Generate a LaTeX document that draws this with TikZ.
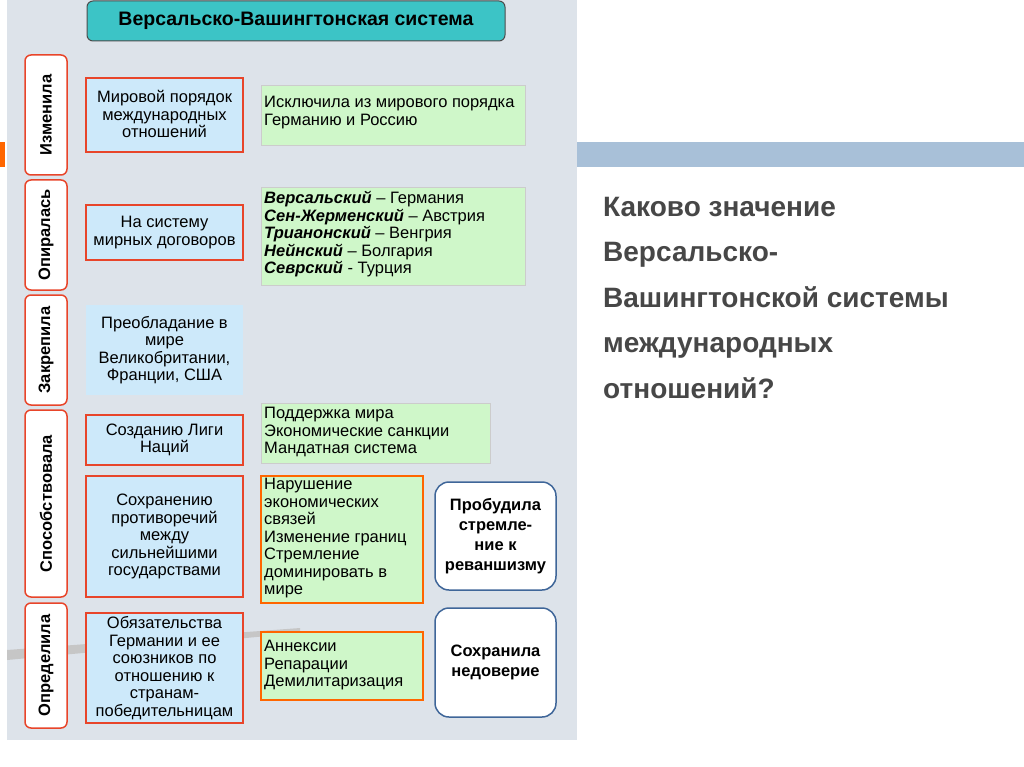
\documentclass[tikz,border=0pt]{standalone}
\usepackage{fontspec}
\setmainfont{Liberation Sans}
\definecolor{panel}{HTML}{DDE3EA}
\definecolor{tealc}{HTML}{3CC4C6}
\definecolor{barc}{HTML}{A8C0D8}
\definecolor{bluef}{HTML}{CDE9FA}
\definecolor{greenf}{HTML}{CFF7C9}
\definecolor{redb}{HTML}{E8452A}
\begin{document}
\begin{tikzpicture}[x=1pt,y=-1pt,
 lbl/.style={draw=redb,line width=1.5pt,fill=white,rounded corners=6pt},
 bbox/.style={draw=redb,line width=1.8pt,fill=bluef},
 gbox/.style={fill=greenf,draw=gray!40,line width=0.6pt},
 gobox/.style={fill=greenf,draw=orange!80!red,line width=1.2pt},
 wbox/.style={draw=cyan!50!blue!70!black,line width=1.5pt,fill=white,rounded corners=14pt},
 txt/.style={font=\fontsize{16.5}{17.5}\selectfont,align=center},
 ltxt/.style={font=\fontsize{16.5}{17.5}\selectfont,align=left,anchor=north west,inner sep=2pt}]
\useasboundingbox (0,0) rectangle (1024,767);
\fill[white] (0,0) rectangle (1024,767);
\fill[panel] (7,0) rectangle (577,740);
\fill[gray!45] (7,650) -- (300,628) -- (300,633) -- (7,660) -- cycle;
% title
\node[draw=black!70,line width=1pt,fill=tealc,rounded corners=6pt,minimum width=418pt,minimum height=40pt,font=\bfseries\fontsize{19.5}{21}\selectfont] (title) at (296,21) {Версальско-Вашингтонская система};
% right bar
\fill[barc] (577,142) rectangle (1024,167);
\fill[orange!80!red] (0,142) rectangle (5,167);
\node[anchor=north west,align=left,text=black!72,font=\bfseries\fontsize{28}{45.5}\selectfont,inner sep=0pt] (q) at (603,197) {Каково значение\\Версальско-\\Вашингтонской системы\\международных\\отношений?};
% labels
\foreach \n/\t/\a/\b in {l1/Изменила/55/175,l2/Опиралась/180/290,l3/Закрепила/295/405,l4/Способствовала/410/597,l5/Определила/603/728}{
 \draw[lbl] (25,\a) rectangle (67,\b);
 \node[rotate=90,font=\bfseries\fontsize{16.5}{18}\selectfont] (\n) at (46,{(\a+\b)/2}) {\t};
}
% blue boxes
\draw[bbox] (86,78) rectangle (243,152);
\node[txt] (b1) at (164.5,114) {Мировой порядок\\международных\\отношений};
\draw[bbox] (86,205) rectangle (243,260);
\node[txt] (b2) at (164.5,232.5) {На систему\\мирных договоров};
\fill[bluef] (86,305) rectangle (243,395);
\node[txt] (b3) at (164.5,350) {Преобладание в\\мире\\Великобритании,\\Франции, США};
\draw[bbox] (86,415) rectangle (243,465);
\node[txt] (b4) at (164.5,440) {Созданию Лиги\\Наций};
\draw[bbox] (86,476) rectangle (243,597);
\node[txt] (b5) at (164.5,536.5) {Сохранению\\противоречий\\между\\сильнейшими\\государствами};
\draw[bbox] (86,613) rectangle (243,723);
\node[txt] (b6) at (164.5,668) {Обязательства\\Германии и ее\\союзников по\\отношению к\\странам-\\победительницам};
% green boxes
\draw[gbox] (261,85) rectangle (525,145);
\node[ltxt] (g1) at (262,94) {Исключила из мирового порядка\\Германию и Россию};
\draw[gbox] (261,187) rectangle (525,285);
\node[ltxt] (g2) at (262,189) {\textbf{\itshape Версальский} – Германия\\\textbf{\itshape Сен-Жерменский} – Австрия\\\textbf{\itshape Трианонский} – Венгрия\\\textbf{\itshape Нейнский} – Болгария\\\textbf{\itshape Севрский} - Турция};
\draw[gbox] (261,403) rectangle (490,463);
\node[ltxt] (g3) at (262,405) {Поддержка мира\\Экономические санкции\\Мандатная система};
\draw[gobox] (261,476) rectangle (423,603);
\node[ltxt] (g4) at (262,476) {Нарушение\\экономических\\связей\\Изменение границ\\Стремление\\доминировать в\\мире};
\draw[gobox] (261,632) rectangle (423,700);
\node[ltxt] (g5) at (262,638) {Аннексии\\Репарации\\Демилитаризация};
% white boxes
\draw[wbox] (435,482) rectangle (556,590);
\node[txt,font=\bfseries\fontsize{16.5}{20}\selectfont] (w1) at (495.5,536) {Пробудила\\стремле-\\ние к\\реваншизму};
\draw[wbox] (435,608) rectangle (556,717);
\node[txt,font=\bfseries\fontsize{16.5}{20}\selectfont] (w2) at (495.5,662) {Сохранила\\недоверие};
\end{tikzpicture}
\end{document}
